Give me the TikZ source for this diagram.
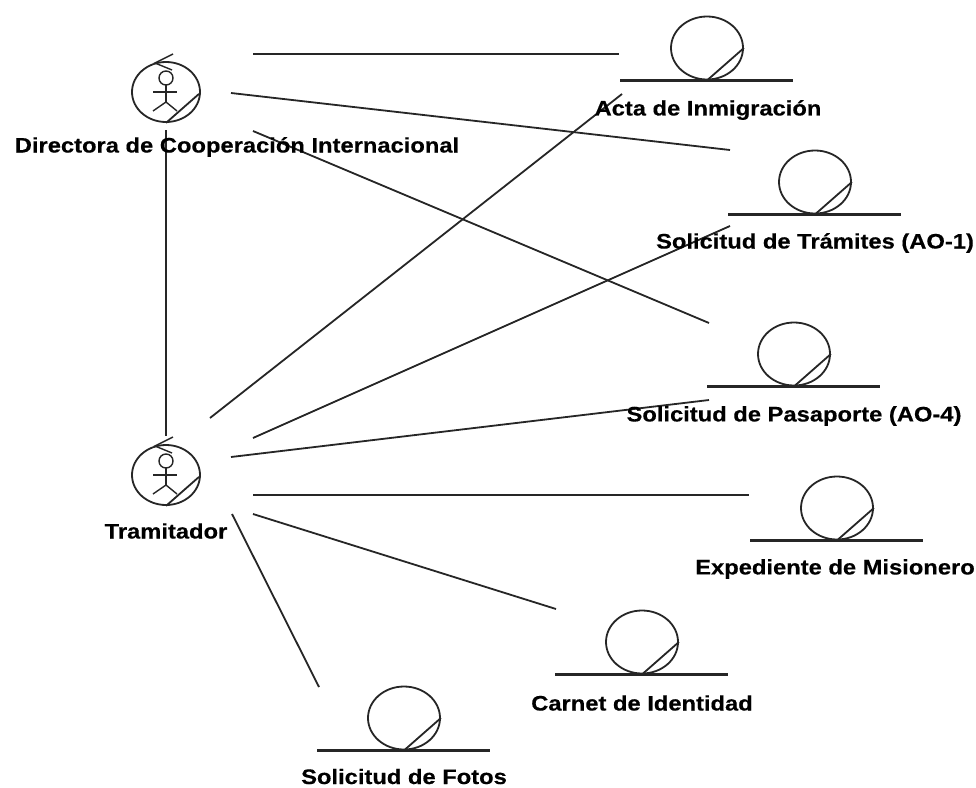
\documentclass[tikz,border=0pt]{standalone}
\usepackage{fontspec}
\setmainfont[FakeStretch=1.13,BoldFeatures={FakeBold=0.4}]{Liberation Sans}
\usetikzlibrary{shapes.geometric}
\tikzset{
  x=1pt,y=-1pt,
  ln/.style={draw=black!85,line width=1.8pt},
  base ln/.style={draw=black!85,line width=2.2pt},
  thin ln/.style={draw=black!85,line width=1.4pt},
  blob/.style={ellipse,draw=black!85,line width=1.8pt,inner sep=0pt,minimum width=72pt,minimum height=63pt},
  actorblob/.style={ellipse,draw=black!85,line width=1.8pt,inner sep=0pt,minimum width=68pt,minimum height=60pt},
  lbl/.style={font=\bfseries\fontsize{21pt}{24pt}\selectfont,text=black,inner sep=0pt,anchor=center},
}
\newcommand{\entitysym}[3]{% name, cx, cy
  \node[blob] (#1) at (#2,#3) {};
  \draw[base ln] ([xshift=-87pt]#1.south) -- ([xshift=86pt]#1.south);
  \draw[ln] (#1.south) -- (#1.east);
}
\newcommand{\actorsym}[3]{%
  \node[actorblob] (#1) at (#2,#3) {};
  \draw[ln] (#1.south) -- ([shift={(33pt,29pt)}]#1.south);
  \draw[thin ln] ([shift={(0pt,14pt)}]#1.center) circle[radius=7pt];
  \draw[thin ln] ([yshift=7pt]#1.center) -- ([yshift=-10pt]#1.center);
  \draw[thin ln] (#1.center) ++(-13pt,0pt) -- ++(24pt,0pt);
  \draw[thin ln] ([shift={(-13pt,-19pt)}]#1.center) -- ([yshift=-10pt]#1.center) -- ([shift={(11pt,-19pt)}]#1.center);
  \draw[thin ln] ([shift={(7pt,38pt)}]#1.center) -- ([shift={(-11pt,29pt)}]#1.center) -- ([shift={(6pt,22pt)}]#1.center);
}
\begin{document}
\begin{tikzpicture}
\useasboundingbox (0,0) rectangle (976,787);
\fill[white] (0,0) rectangle (976,787);

\coordinate (a1) at (253,54);   \coordinate (e1a) at (619,54);
\coordinate (a2) at (231,93);   \coordinate (e2a) at (730,150);
\coordinate (a3) at (253,131);  \coordinate (e3a) at (709,323);
\coordinate (a4) at (166,130);  \coordinate (t0) at (166,436);
\coordinate (t1) at (210,418);  \coordinate (e1b) at (622,94);
\coordinate (t2) at (253,438);  \coordinate (e2b) at (730,226);
\coordinate (t3) at (231,457);  \coordinate (e3b) at (709,400);
\coordinate (t4) at (253,495);  \coordinate (e4) at (749,495);
\coordinate (t5) at (253,514);  \coordinate (e5) at (556,609);
\coordinate (t6) at (232,514);  \coordinate (e6) at (319,687);

\draw[ln] (a1) -- (e1a);
\draw[ln] (a2) -- (e2a);
\draw[ln] (a3) -- (e3a);
\draw[ln] (a4) -- (t0);
\draw[ln] (t1) -- (e1b);
\draw[ln] (t2) -- (e2b);
\draw[ln] (t3) -- (e3b);
\draw[ln] (t4) -- (e4);
\draw[ln] (t5) -- (e5);
\draw[ln] (t6) -- (e6);

\actorsym{dir}{166}{92}
\actorsym{tra}{166}{475}
\entitysym{acta}{707}{48}
\entitysym{sol}{815}{182}
\entitysym{pas}{794}{354}
\entitysym{exp}{837}{508}
\entitysym{car}{642}{642}
\entitysym{fot}{404}{718}

\node[lbl] (ldir) at (237,147) {Directora de Cooperación Internacional};
\node[lbl] (ltra) at (166,531) {Tramitador};
\node[lbl] (lacta) at (708,110) {Acta de Inmigración};
\node[lbl] (lsol) at (815,243) {Solicitud de Trámites (AO-1)};
\node[lbl] (lpas) at (794,416) {Solicitud de Pasaporte (AO-4)};
\node[lbl] (lexp) at (835,569) {Expediente de Misionero};
\node[lbl] (lcar) at (642,703) {Carnet de Identidad};
\node[lbl] (lfot) at (404,776.5) {Solicitud de Fotos};
\end{tikzpicture}
\end{document}
